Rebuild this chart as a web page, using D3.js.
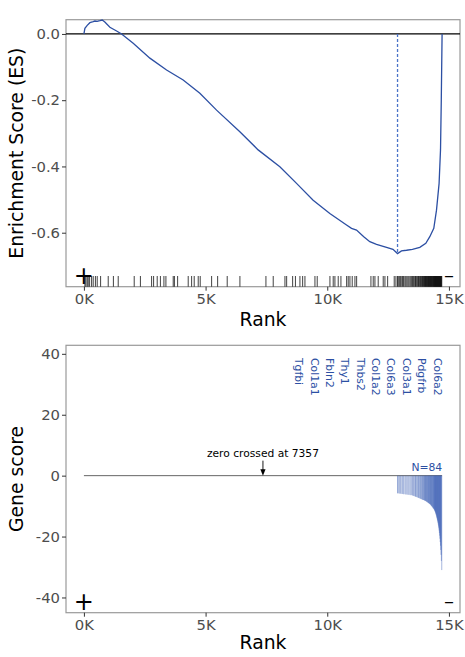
<!DOCTYPE html>
<html>
<head>
<meta charset="utf-8">
<script src="https://cdn.jsdelivr.net/npm/d3@7"></script>
<style>
body { margin: 0; background: #fff; }
text { font-family: "DejaVu Sans", sans-serif; }
</style>
</head>
<body>
<svg id="chart" width="465" height="657"></svg>
<script>
// Data
const n_genes = 14719
const zero_cross = 7357

// running enrichment score
const es_rank = [0, 41, 136, 246, 382, 452, 547, 657, 752, 860, 1068, 1343, 1549, 2025, 2711, 3397, 4079, 4765, 5451, 6408, 7160, 8052, 8738, 9420, 10106, 10792, 10997, 11203, 11500, 11749, 12024, 12435, 12700, 12888, 13050, 13257, 13500, 13803, 14050, 14214, 14378, 14489, 14596, 14654, 14686, 14719]
const es_value = [0, 0.017, 0.026, 0.034, 0.037, 0.039, 0.038, 0.040, 0.042, 0.036, 0.020, 0.009, 0, -0.028, -0.073, -0.109, -0.139, -0.179, -0.230, -0.295, -0.350, -0.401, -0.451, -0.502, -0.542, -0.577, -0.587, -0.592, -0.612, -0.627, -0.635, -0.644, -0.650, -0.663, -0.655, -0.653, -0.650, -0.644, -0.632, -0.612, -0.587, -0.532, -0.451, -0.350, -0.199, 0]

// gene set hits outside the leading edge
const hit_ranks = [41, 82, 136, 177, 234, 316, 382, 473, 547, 686, 999, 1212, 1410, 2067, 2322, 2782, 2864, 3012, 3144, 3288, 3370, 3670, 3719, 3851, 4286, 4426, 4533, 4698, 4780, 5248, 5495, 5889, 6411, 7480, 7780, 8261, 8331, 8577, 8692, 8877, 8988, 9083, 9494, 9588, 10110, 10245, 10315, 10451, 10562, 10796, 10862, 10932, 11026, 11137, 11207, 11795, 11889, 11959, 12094, 12300, 12370, 12481, 12752, 12822]

// leading edge genes (rank, gene score)
const lead_ranks = [12888, 12915, 12960, 13002, 13040, 13095, 13130, 13188, 13230, 13275, 13320, 13362, 13410, 13455, 13498,
    13530, 13561, 13600, 13628, 13655, 13690, 13722, 13750, 13781, 13810, 13836, 13864, 13890, 13915, 13940, 13962, 13985, 14003,
    14020, 14038, 14057, 14075, 14092, 14110, 14128, 14145, 14160, 14178, 14195, 14210, 14226, 14242, 14258, 14272, 14288, 14303, 14318, 14333, 14350, 14366,
    14380, 14392, 14404, 14415, 14427, 14438, 14450, 14461, 14472, 14484, 14495, 14506, 14518, 14529, 14540, 14552, 14563, 14575, 14586, 14597, 14608, 14620, 14631, 14642, 14653, 14664, 14676, 14690, 14705]
const lead_scores = [-5.8, -5.8, -5.9, -5.9, -6.0, -6.0, -6.1, -6.1, -6.2, -6.2, -6.3, -6.3, -6.4, -6.4, -6.5,
    -6.6, -6.7, -6.8, -6.9, -7.0, -7.1, -7.2, -7.3, -7.4, -7.5, -7.6, -7.7, -7.8, -7.9, -8.0, -8.0, -8.1, -8.2,
    -8.2, -8.3, -8.4, -8.5, -8.6, -8.7, -8.8, -8.9, -9.0, -9.1, -9.2, -9.3, -9.4, -9.5, -9.7, -9.8, -10.0, -10.1, -10.3, -10.5, -10.7, -10.8,
    -10.9, -11.1, -11.3, -11.5, -11.7, -11.9, -12.2, -12.5, -12.8, -13.1, -13.5, -13.9, -14.3, -14.7, -15.1, -15.6, -16.1, -16.7, -17.3, -18.0, -18.8, -19.7, -20.7, -21.8, -23.0, -24.4, -26.0, -28.0, -31.0]
const lead_labels = ["Tgfbi", "Col1a1", "Fbln2", "Thy1", "Thbs2", "Col1a2", "Col6a3", "Col3a1", "Pdgfrb", "Col6a2"]

const es_ticks = [0, -0.2, -0.4, -0.6]
const score_ticks = [40, 20, 0, -20, -40]
const rank_ticks = [0, 5000, 10000, 15000]

// Layout
const blue = "#2c4fa3"
const panel_left = 66, panel_right = 460
const top_panel = {y0: 19.7, y1: 286.7}
const bot_panel = {y0: 345.3, y1: 612.7}

const svg = d3.select("#chart")

const x = d3.scaleLinear()
    .domain([-0.05 * n_genes, 1.05 * n_genes])
    .range([panel_left, panel_right])
const y_es = d3.scaleLinear().domain([-0.763, 0.043]).range([top_panel.y1, top_panel.y0])
const y_score = d3.scaleLinear().domain([-45, 42.8]).range([bot_panel.y1, bot_panel.y0])

function drawAxes(panel, y, ticks, fmt, title, title_y) {
    svg.append("rect")
        .attr("x", panel_left).attr("y", panel.y0)
        .attr("width", panel_right - panel_left).attr("height", panel.y1 - panel.y0)
        .attr("fill", "none").attr("stroke", "#9a9a9a").attr("stroke-width", 1.2)

    const ya = svg.append("g")
        .attr("transform", `translate(${panel_left},0)`)
        .call(d3.axisLeft(y).tickValues(ticks).tickFormat(fmt).tickSize(4).tickPadding(2))
    const xa = svg.append("g")
        .attr("transform", `translate(0,${panel.y1})`)
        .call(d3.axisBottom(x).tickValues(rank_ticks).tickFormat(d => (d / 1000) + "K").tickSize(4).tickPadding(3))
    for (const a of [ya, xa]) {
        a.select(".domain").remove()
        a.selectAll(".tick line").attr("stroke", "#333")
        a.selectAll(".tick text").attr("fill", "#4d4d4d").style("font-size", "14.8px")
            .style("font-family", "DejaVu Sans, sans-serif")
    }

    svg.append("text")
        .attr("transform", `translate(23,${(panel.y0 + panel.y1) / 2}) rotate(-90)`)
        .attr("text-anchor", "middle")
        .style("font-size", "18.8px")
        .text(title)
    svg.append("text")
        .attr("x", (panel_left + panel_right) / 2).attr("y", title_y)
        .attr("text-anchor", "middle")
        .style("font-size", "18.8px")
        .text("Rank")
}

function drawSigns(cy) {
    svg.append("text")
        .attr("x", x(0)).attr("y", cy).attr("dy", "0.36em")
        .attr("text-anchor", "middle")
        .style("font-size", "24px")
        .text("+")
    svg.append("text")
        .attr("x", x(n_genes) + 7).attr("y", cy).attr("dy", "0.3em")
        .attr("text-anchor", "middle")
        .style("font-size", "20px")
        .text("–")
}

// ---- top panel: running ES ----
drawAxes(top_panel, y_es, es_ticks, d => d.toFixed(1), "Enrichment Score (ES)", 326)

svg.append("line")
    .attr("x1", panel_left).attr("x2", panel_right)
    .attr("y1", y_es(0)).attr("y2", y_es(0))
    .attr("stroke", "#000").attr("stroke-width", 1.2)

const min_idx = d3.minIndex(es_value)
svg.append("line")
    .attr("x1", x(es_rank[min_idx])).attr("x2", x(es_rank[min_idx]))
    .attr("y1", y_es(0)).attr("y2", y_es(es_value[min_idx]))
    .attr("stroke", "#4a73c8").attr("stroke-width", 1.3)
    .attr("stroke-dasharray", "3,2")

const es_points = es_rank.map((r, i) => [r, es_value[i]])
svg.append("path")
    .datum(es_points)
    .attr("fill", "none")
    .attr("stroke", blue)
    .attr("stroke-width", 1.3)
    .attr("d", d3.line().x(d => x(d[0])).y(d => y_es(d[1])))

// rug of gene set members
svg.append("g")
    .selectAll("line")
    .data(hit_ranks.concat(lead_ranks))
    .enter()
    .append("line")
    .attr("x1", d => x(d)).attr("x2", d => x(d))
    .attr("y1", 276).attr("y2", top_panel.y1)
    .attr("stroke", "#111").attr("stroke-width", 0.8)

drawSigns(275.7)

// ---- bottom panel: gene scores ----
drawAxes(bot_panel, y_score, score_ticks, d => String(d), "Gene score", 649)

svg.append("line")
    .attr("x1", x(0)).attr("x2", x(n_genes))
    .attr("y1", y_score(0)).attr("y2", y_score(0))
    .attr("stroke", "#555").attr("stroke-width", 0.9)

svg.append("g")
    .selectAll("line")
    .data(lead_ranks.map((r, i) => [r, lead_scores[i]]))
    .enter()
    .append("line")
    .attr("x1", d => x(d[0])).attr("x2", d => x(d[0]))
    .attr("y1", y_score(0)).attr("y2", d => y_score(d[1]))
    .attr("stroke", "#3a5fb3").attr("stroke-width", 0.45)

// zero crossing annotation
const zx = x(zero_cross), z0 = y_score(0)
svg.append("text")
    .attr("x", zx).attr("y", z0 - 18.5)
    .attr("text-anchor", "middle")
    .style("font-size", "10.7px")
    .text("zero crossed at " + zero_cross)
svg.append("line")
    .attr("x1", zx).attr("x2", zx)
    .attr("y1", z0 - 15).attr("y2", z0 - 5)
    .attr("stroke", "#000").attr("stroke-width", 0.9)
svg.append("path")
    .attr("d", `M${zx - 2.6},${z0 - 6.5}L${zx + 2.6},${z0 - 6.5}L${zx},${z0}Z`)
    .attr("fill", "#000")

// leading edge count
const last_x = x(lead_ranks[lead_ranks.length - 1])
svg.append("text")
    .attr("x", last_x + 0.5).attr("y", z0 - 5)
    .attr("text-anchor", "end")
    .attr("fill", blue)
    .style("font-size", "10.8px")
    .text("N=" + lead_ranks.length)

// gene labels, evenly spaced, ending at the last leading-edge gene
const label_step = 15.37
svg.append("g")
    .selectAll("text")
    .data(lead_labels)
    .enter()
    .append("text")
    .attr("transform", (d, i) => `translate(${last_x - 4.4 - (lead_labels.length - 1 - i) * label_step},358) rotate(90)`)
    .attr("dy", "0.35em")
    .attr("fill", blue)
    .style("font-size", "10.8px")
    .text(d => d)

drawSigns(601.8)
</script>
</body>
</html>
